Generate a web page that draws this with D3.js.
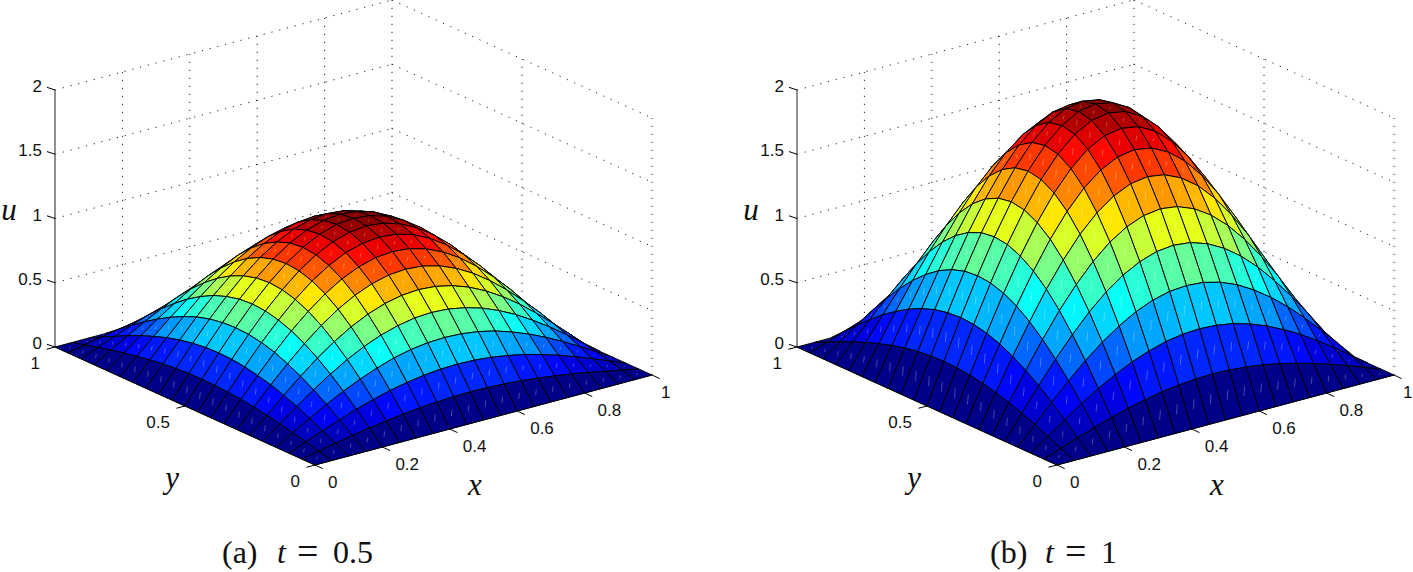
<!DOCTYPE html>
<html>
<head>
<meta charset="utf-8">
<script src="https://cdn.jsdelivr.net/npm/d3@7"></script>
<style>
  html, body { margin: 0; padding: 0; background: #fff; }
  svg { display: block; }
  .tick text { font-family: "Liberation Sans", sans-serif; font-size: 17px; fill: #111; }
  .math { font-family: "Liberation Serif", serif; font-style: italic; font-size: 31px; fill: #111; }
  .caption { font-family: "Liberation Serif", serif; font-size: 32px; fill: #111; }
</style>
</head>
<body>
<svg id="chart" width="1413" height="572"></svg>
<script>
// grid positions of the surface
const xGrid = [0, .05, .1, .15, .2, .25, .3, .35, .4, .45, .5, .55, .6, .65, .7, .75, .8, .85, .9, .95, 1];
const yGrid = [0, .05, .1, .15, .2, .25, .3, .35, .4, .45, .5, .55, .6, .65, .7, .75, .8, .85, .9, .95, 1];

const xTicks = [0, .2, .4, .6, .8, 1];
const yTicks = [0, .5, 1];
const zTicks = [0, .5, 1, 1.5, 2];

// u, t = 0.5
const uHalf = [
  [0,0,0,0,0,0,0,0,0,0,0,0,0,0,0,0,0,0,0,0,0],
  [0,.027,.053,.079,.102,.122,.140,.154,.164,.171,.173,.171,.164,.154,.140,.122,.102,.079,.053,.027,0],
  [0,.053,.105,.155,.202,.242,.278,.305,.326,.339,.343,.339,.326,.305,.278,.242,.202,.155,.105,.053,0],
  [0,.079,.155,.229,.296,.356,.407,.450,.480,.498,.504,.498,.480,.450,.407,.356,.296,.229,.155,.079,0],
  [0,.102,.202,.296,.383,.462,.528,.582,.620,.645,.653,.645,.620,.582,.528,.462,.383,.296,.202,.102,0],
  [0,.122,.242,.356,.462,.555,.635,.699,.746,.775,.785,.775,.746,.699,.635,.555,.462,.356,.242,.122,0],
  [0,.140,.278,.407,.528,.635,.727,.800,.854,.887,.898,.887,.854,.800,.727,.635,.528,.407,.278,.140,0],
  [0,.154,.305,.450,.582,.699,.800,.881,.940,.977,.989,.977,.940,.881,.800,.699,.582,.450,.305,.154,0],
  [0,.164,.326,.480,.620,.746,.854,.940,1.005,1.043,1.056,1.043,1.005,.940,.854,.746,.620,.480,.326,.164,0],
  [0,.171,.339,.498,.645,.775,.887,.977,1.043,1.083,1.097,1.083,1.043,.977,.887,.775,.645,.498,.339,.171,0],
  [0,.173,.343,.504,.653,.785,.898,.989,1.056,1.097,1.11,1.097,1.056,.989,.898,.785,.653,.504,.343,.173,0],
  [0,.171,.339,.498,.645,.775,.887,.977,1.043,1.083,1.097,1.083,1.043,.977,.887,.775,.645,.498,.339,.171,0],
  [0,.164,.326,.480,.620,.746,.854,.940,1.005,1.043,1.056,1.043,1.005,.940,.854,.746,.620,.480,.326,.164,0],
  [0,.154,.305,.450,.582,.699,.800,.881,.940,.977,.989,.977,.940,.881,.800,.699,.582,.450,.305,.154,0],
  [0,.140,.278,.407,.528,.635,.727,.800,.854,.887,.898,.887,.854,.800,.727,.635,.528,.407,.278,.140,0],
  [0,.122,.242,.356,.462,.555,.635,.699,.746,.775,.785,.775,.746,.699,.635,.555,.462,.356,.242,.122,0],
  [0,.102,.202,.296,.383,.462,.528,.582,.620,.645,.653,.645,.620,.582,.528,.462,.383,.296,.202,.102,0],
  [0,.079,.155,.229,.296,.356,.407,.450,.480,.498,.504,.498,.480,.450,.407,.356,.296,.229,.155,.079,0],
  [0,.053,.105,.155,.202,.242,.278,.305,.326,.339,.343,.339,.326,.305,.278,.242,.202,.155,.105,.053,0],
  [0,.027,.053,.079,.102,.122,.140,.154,.164,.171,.173,.171,.164,.154,.140,.122,.102,.079,.053,.027,0],
  [0,0,0,0,0,0,0,0,0,0,0,0,0,0,0,0,0,0,0,0,0]
];

// u, t = 1
const uOne = [
  [0,0,0,0,0,0,0,0,0,0,0,0,0,0,0,0,0,0,0,0,0],
  [0,.048,.096,.142,.184,.220,.252,.278,.296,.308,.312,.308,.296,.278,.252,.220,.184,.142,.096,.048,0],
  [0,.096,.190,.280,.364,.436,.500,.550,.588,.610,.618,.610,.588,.550,.500,.436,.364,.280,.190,.096,0],
  [0,.142,.280,.412,.534,.642,.734,.810,.864,.898,.908,.898,.864,.810,.734,.642,.534,.412,.280,.142,0],
  [0,.184,.364,.534,.690,.832,.952,1.048,1.118,1.162,1.176,1.162,1.118,1.048,.952,.832,.690,.534,.364,.184,0],
  [0,.220,.436,.642,.832,1.0,1.144,1.260,1.344,1.396,1.414,1.396,1.344,1.260,1.144,1.0,.832,.642,.436,.220,0],
  [0,.252,.500,.734,.952,1.144,1.310,1.442,1.538,1.598,1.618,1.598,1.538,1.442,1.310,1.144,.952,.734,.500,.252,0],
  [0,.278,.550,.810,1.048,1.260,1.442,1.588,1.694,1.760,1.782,1.760,1.694,1.588,1.442,1.260,1.048,.810,.550,.278,0],
  [0,.296,.588,.864,1.118,1.344,1.538,1.694,1.810,1.880,1.902,1.880,1.810,1.694,1.538,1.344,1.118,.864,.588,.296,0],
  [0,.308,.610,.898,1.162,1.396,1.598,1.760,1.880,1.952,1.976,1.952,1.880,1.760,1.598,1.396,1.162,.898,.610,.308,0],
  [0,.312,.618,.908,1.176,1.414,1.618,1.782,1.902,1.976,2,1.976,1.902,1.782,1.618,1.414,1.176,.908,.618,.312,0],
  [0,.308,.610,.898,1.162,1.396,1.598,1.760,1.880,1.952,1.976,1.952,1.880,1.760,1.598,1.396,1.162,.898,.610,.308,0],
  [0,.296,.588,.864,1.118,1.344,1.538,1.694,1.810,1.880,1.902,1.880,1.810,1.694,1.538,1.344,1.118,.864,.588,.296,0],
  [0,.278,.550,.810,1.048,1.260,1.442,1.588,1.694,1.760,1.782,1.760,1.694,1.588,1.442,1.260,1.048,.810,.550,.278,0],
  [0,.252,.500,.734,.952,1.144,1.310,1.442,1.538,1.598,1.618,1.598,1.538,1.442,1.310,1.144,.952,.734,.500,.252,0],
  [0,.220,.436,.642,.832,1.0,1.144,1.260,1.344,1.396,1.414,1.396,1.344,1.260,1.144,1.0,.832,.642,.436,.220,0],
  [0,.184,.364,.534,.690,.832,.952,1.048,1.118,1.162,1.176,1.162,1.118,1.048,.952,.832,.690,.534,.364,.184,0],
  [0,.142,.280,.412,.534,.642,.734,.810,.864,.898,.908,.898,.864,.810,.734,.642,.534,.412,.280,.142,0],
  [0,.096,.190,.280,.364,.436,.500,.550,.588,.610,.618,.610,.588,.550,.500,.436,.364,.280,.190,.096,0],
  [0,.048,.096,.142,.184,.220,.252,.278,.296,.308,.312,.308,.296,.278,.252,.220,.184,.142,.096,.048,0],
  [0,0,0,0,0,0,0,0,0,0,0,0,0,0,0,0,0,0,0,0,0]
];

var svg = d3.select("#chart");

// oblique view of the box: each axis moves the point across and up the page
var xAcross = d3.scaleLinear().domain([0, 1]).range([0, 337]),
    xDown = d3.scaleLinear().domain([0, 1]).range([0, -90]),
    yAcross = d3.scaleLinear().domain([0, 1]).range([0, -260]),
    yDown = d3.scaleLinear().domain([0, 1]).range([0, -118]),
    zDown = d3.scaleLinear().domain([0, 2]).range([0, -257]);

function project(x, y, z) {
  return [xAcross(x) + yAcross(y), xDown(x) + yDown(y) + zDown(z)];
}

// jet colormap, 64 steps like matlab
var jet = d3.scaleLinear()
  .domain([0, .11, .36, .61, .86, 1])
  .range(["#000080", "#0000ff", "#00ffff", "#ffff00", "#ff0000", "#800000"]);

var lineGen = d3.line();

function drawPanel(originX, originY, grid, caption) {
  var g = svg.append("g").attr("transform", "translate(" + originX + "," + originY + ")");
  var uMax = d3.max(grid, r => d3.max(r));
  var color = d3.scaleQuantize().domain([0, uMax]).range(d3.range(64).map(k => jet((k + .5) / 64)));

  // back walls, dotted
  var walls = g.append("g").attr("fill", "none").attr("stroke", "#222")
    .attr("stroke-width", 1).attr("stroke-dasharray", "1.2 6.8");
  zTicks.slice(1).forEach(z => {
    walls.append("path").attr("d", lineGen([project(0, 1, z), project(1, 1, z)]));
    walls.append("path").attr("d", lineGen([project(1, 1, z), project(1, 0, z)]));
  });
  xTicks.slice(1).forEach(x => {
    walls.append("path").attr("d", lineGen([project(x, 1, 0), project(x, 1, 2)]));
  });
  yTicks.slice(0, 2).forEach(y => {
    walls.append("path").attr("d", lineGen([project(1, y, 0), project(1, y, 2)]));
  });

  // axes
  g.append("path").attr("d", lineGen([project(0, 1, 0), project(0, 1, 2)]))
    .attr("stroke", "#555").attr("stroke-width", 1.3).attr("fill", "none");
  g.append("path").attr("d", lineGen([project(0, 1, 0), project(0, 0, 0), project(1, 0, 0)]))
    .attr("stroke", "#000").attr("stroke-width", 1).attr("fill", "none");

  // surface faces from the far corner forward so nearer ones cover farther ones
  var faces = [];
  for (var i = xGrid.length - 2; i >= 0; i--) {
    for (var j = yGrid.length - 2; j >= 0; j--) {
      faces.push({i: i, j: j});
    }
  }
  var surface = g.append("g");
  faces.forEach(f => {
    var a = project(xGrid[f.i], yGrid[f.j], grid[f.i][f.j]),
        b = project(xGrid[f.i + 1], yGrid[f.j], grid[f.i + 1][f.j]),
        c = project(xGrid[f.i + 1], yGrid[f.j + 1], grid[f.i + 1][f.j + 1]),
        d = project(xGrid[f.i], yGrid[f.j + 1], grid[f.i][f.j + 1]);
    surface.append("path")
      .attr("d", lineGen([a, b, c, d]) + "Z")
      .attr("fill", color(grid[f.i][f.j]))
      .attr("stroke", "#000")
      .attr("stroke-width", .95)
      .attr("stroke-linejoin", "round");
    // pale seam along the diagonal of every face
    surface.append("path")
      .attr("d", lineGen([d3.interpolate(a, c)(.4), d3.interpolate(a, c)(.6)]))
      .attr("stroke", "#fff")
      .attr("stroke-opacity", .35)
      .attr("stroke-width", .8)
      .attr("fill", "none");
  });

  // ticks and labels
  var tickLen = 9;
  var zt = g.append("g").attr("class", "tick");
  zTicks.forEach(z => {
    var p = project(0, 1, z);
    zt.append("path").attr("d", lineGen([p, [p[0] - 8, p[1] - 2.7]])).attr("stroke", "#000").attr("fill", "none");
    zt.append("text").attr("x", p[0] - 13).attr("y", p[1] - 4).attr("dy", ".36em")
      .attr("text-anchor", "end").text(z);
  });
  var xt = g.append("g").attr("class", "tick");
  xTicks.forEach(x => {
    var p = project(x, 0, 0);
    xt.append("path").attr("d", lineGen([p, [p[0] + tickLen * .85, p[1] + tickLen * .4]])).attr("stroke", "#000").attr("fill", "none");
    // the last label sits closer in, the page ends right after it
    xt.append("text").attr("x", p[0] + (x === 1 ? 9 : 13)).attr("y", p[1] + 17).attr("dy", ".36em").text(x);
  });
  var yt = g.append("g").attr("class", "tick");
  yTicks.forEach(y => {
    var p = project(0, y, 0);
    yt.append("path").attr("d", lineGen([p, [p[0] - tickLen * .95, p[1] + tickLen * .25]])).attr("stroke", "#000").attr("fill", "none");
    yt.append("text").attr("x", p[0] - 15).attr("y", p[1] + 16).attr("dy", ".36em")
      .attr("text-anchor", "end").text(y);
  });

  // axis names
  g.append("text").attr("class", "math").attr("text-anchor", "middle").attr("x", -306).attr("y", -245).text("u");
  g.append("text").attr("class", "math").attr("text-anchor", "middle").attr("x", 160).attr("y", 30).text("x");
  g.append("text").attr("class", "math").attr("text-anchor", "middle").attr("x", -143).attr("y", 23).text("y");

  // caption
  var cap = g.append("text").attr("class", "caption");
  cap.append("tspan").attr("x", caption.x).attr("y", 98).text(caption.tag);
  cap.append("tspan").attr("x", caption.x + 55).attr("y", 98).attr("font-style", "italic").text("t");
  cap.append("tspan").attr("x", caption.x + 75).attr("y", 99).attr("font-size", 38).text("=");
  cap.append("tspan").attr("x", caption.x + 111).attr("y", 98).text(caption.value);
}

drawPanel(315, 465, uHalf, {x: -93, tag: "(a)", value: "0.5"});
drawPanel(1057, 465, uOne, {x: -67, tag: "(b)", value: "1"});
</script>
</body>
</html>
